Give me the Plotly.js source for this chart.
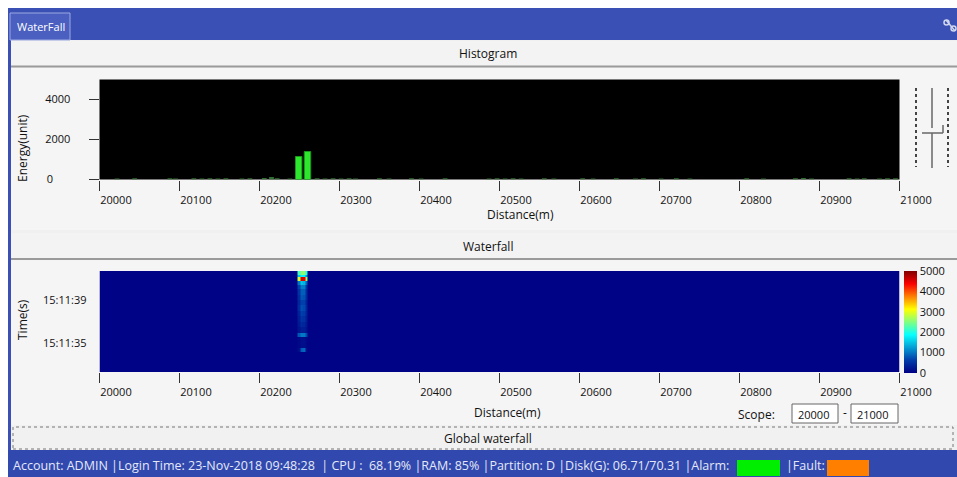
<!DOCTYPE html>
<html><head><meta charset="utf-8">
<script src="https://cdn.plot.ly/plotly-3.0.1.min.js"></script>
<style>html,body{margin:0;padding:0;background:#fff;overflow:hidden}#chart{width:957px;height:477px}</style>
</head><body><div id="chart"></div>
<script>
// ---------- data ----------
const distTicks = [20000,20100,20200,20300,20400,20500,20600,20700,20800,20900,21000];
const distTickText = ['20000','20100','20200','20300','20400','20500','20600','20700','20800','20900','21000'];
const energyTicks = [0,2000,4000];
const energyTickText = ['0\u00a0\u00a0\u00a0\u00a0\u00a0\u00a0','2000','4000'];
const timeTicks = [35,39];
const timeTickText = ['15:11:35','15:11:39'];
const colorbarTicks = [0,1000,2000,3000,4000,5000];

const peakDist = [20249,20260];
const peakEnergy = [1150,1400];

const noiseDist = [20022,20044,20088,20095,20118,20128,20138,20148,20158,20178,20188,20206,20215,20222,20238,
  20272,20282,20292,20302,20312,20320,20350,20362,20390,20402,20432,20487,20497,20507,20517,20527,20556,20568,
  20604,20617,20646,20670,20680,20702,20721,20738,20809,20830,20870,20880,20890,20937,20947,20956,20975,20985,20995];
const noiseEnergy = [50,60,60,50,60,50,60,50,60,50,60,70,120,60,50,
  60,50,60,50,60,50,60,50,60,50,60,50,60,50,60,50,60,50,
  60,50,60,50,60,50,60,50,60,50,60,70,50,60,50,60,50,60,60];

const wfDistEdges = [20000,20248,20251,20254,20257,20260,21000];
const wfTimeEdges = [32.3,34.2,34.5,35.6,35.9,36.5,37,37.5,38,38.5,39,39.5,40,40.4,40.8,41.1,41.35,41.7];
const wfEnergy = [
  [30,30,30,30,30,30],
  [30,150,800,900,150,30],
  [30,80,150,150,80,30],
  [30,800,1000,1000,700,30],
  [30,200,300,300,200,30],
  [30,250,450,400,250,30],
  [30,300,550,500,300,30],
  [30,350,650,600,350,30],
  [30,450,750,700,400,30],
  [30,400,650,650,350,30],
  [30,450,800,750,450,30],
  [30,500,850,850,450,30],
  [30,650,1050,1050,550,30],
  [30,1000,1500,1400,900,30],
  [30,2900,4600,4500,2600,30],
  [30,1500,1800,1800,1200,30],
  [30,2200,2500,2600,2000,30]
];

const statusText = 'Account: ADMIN |Login Time: 23-Nov-2018 09:48:28  | CPU :  68.19% |RAM: 85% |Partition: D |Disk(G): 06.71/70.31 |Alarm:';

// ---------- layout helpers ----------
const W = 957, H = 477;
const px = v => v / W;
const py = v => 1 - v / H;
const FONT = 'Open Sans, Noto Sans, sans-serif';

function rect(x0,y0,x1,y1,fill,line){
  return {type:'rect',xref:'paper',yref:'paper',x0:px(x0),x1:px(x1),y0:py(y1),y1:py(y0),
    fillcolor:fill,line:line||{width:0},layer:'below'};
}
function seg(x0,y0,x1,y1,color,width,dash){
  return {type:'line',xref:'paper',yref:'paper',x0:px(x0),x1:px(x1),y0:py(y0),y1:py(y1),
    line:{color:color,width:width,dash:dash||'solid'},layer:'below'};
}
function txt(t,x,y,opt){
  opt = opt||{};
  return Object.assign({text:t,xref:'paper',yref:'paper',x:px(x),y:py(y),showarrow:false,
    xanchor:opt.xanchor||'center',yanchor:'middle',
    font:{family:FONT,size:opt.size||12,color:opt.color||'#111'}},
    opt.textangle!==undefined?{textangle:opt.textangle}:{});
}

const shapes = [
  rect(8,8,957,477,'#3b50b4'),
  rect(8,450,957,477,'#3149ae'),
  rect(11,40,957,450,'#f0f0f0'),
  rect(10,13,70,40,'#4a5fc0',{color:'#9aa8e0',width:1}),
  rect(11,41,957,66,'#f3f3f3'),
  seg(11,66.5,957,66.5,'#9a9a9a',2),
  rect(11,68,957,230,'#f5f5f5'),
  rect(11,233,957,258,'#f3f3f3'),
  seg(11,259,957,259,'#9a9a9a',2),
  rect(11,260,957,425,'#f5f5f5'),
  rect(99.5,79.5,899.5,179.5,'#000000'),
  rect(13,427,953,449,'#f1f1f1',{color:'#777',width:1,dash:'dot'}),
  rect(792,404,838,423,'#ffffff',{color:'#666',width:1}),
  rect(851,404,898,423,'#ffffff',{color:'#666',width:1}),
  rect(737,460,780,476,'#00ee00'),
  rect(827,460,869,476,'#ff8000'),
  // slider widget
  seg(916,88,916,167,'#444',2,'dot'),
  seg(948,88,948,167,'#444',2,'dot'),
  seg(932,88,932,128,'#666',1.5),
  seg(932,133,932,168,'#666',1.5),
  seg(922,133,943,133,'#666',1.5),
  seg(943,125,943,133,'#666',1.5),
  // top right icon
  seg(946,20,955,31,'#cfd6ee',1.5),
  {type:'circle',xref:'paper',yref:'paper',x0:px(944),x1:px(949),y0:py(25),y1:py(20),line:{color:'#cfd6ee',width:1.5},layer:'below'},
  {type:'circle',xref:'paper',yref:'paper',x0:px(951),x1:px(956),y0:py(31),y1:py(26),line:{color:'#cfd6ee',width:1.5},layer:'below'}
];

const annotations = [
  txt('WaterFall',15,27,{xanchor:'left',size:11,color:'#ffffff'}),
  txt('Histogram',488,54),
  txt('Energy(unit)',22,148,{textangle:-90}),
  txt('Distance(m)',520,214),
  txt('Waterfall',488,246),
  txt('Time(s)',22,320,{textangle:-90}),
  txt('Distance(m)',508,412),
  txt('Scope:',756,414),
  txt('20000',796,414,{xanchor:'left',size:11}),
  txt('-',845,412),
  txt('21000',855,414,{xanchor:'left',size:11}),
  txt('Global waterfall',488,438),
  txt(statusText,11,465,{xanchor:'left',size:12.5,color:'#e4e8f6'}),
  txt('|Fault:',784,465,{xanchor:'left',size:12.5,color:'#e4e8f6'})
];

const axisFont = {family:FONT,size:11,color:'#111'};
const xCommon = {
  range:[20000,21000], domain:[px(99.5),px(899.5)],
  tickmode:'array', tickvals:distTicks, ticktext:distTickText,
  ticks:'outside', ticklen:10, tickwidth:1.5, tickcolor:'#333',
  ticklabelposition:'outside right', ticklabelstandoff:10, tickfont:axisFont,
  showgrid:false, zeroline:false, showline:false, fixedrange:true
};

const data = [
  {type:'bar', x:noiseDist, y:noiseEnergy, width:6, xaxis:'x', yaxis:'y',
   marker:{color:'#2f6f2f',line:{width:0}}, hoverinfo:'skip'},
  {type:'bar', x:peakDist, y:peakEnergy, width:8, xaxis:'x', yaxis:'y',
   marker:{color:'#2ee62e',line:{color:'#1a9a1a',width:1}}, hoverinfo:'skip'},
  {type:'heatmap', x:wfDistEdges, y:wfTimeEdges, z:wfEnergy, xaxis:'x2', yaxis:'y2',
   zmin:0, zmax:5000, colorscale:'Jet', hoverinfo:'skip',
   colorbar:{x:px(904), xanchor:'left', xpad:0, ypad:0, y:py(322), yanchor:'middle',
     len:102, lenmode:'pixels', thickness:13, outlinewidth:0, ticks:'',
     tickmode:'array', tickvals:colorbarTicks, tickfont:{family:FONT,size:11,color:'#111'}}}
];

const layout = {
  width:W, height:H, margin:{l:0,r:0,t:0,b:0},
  paper_bgcolor:'#ffffff', plot_bgcolor:'rgba(0,0,0,0)',
  showlegend:false, barmode:'overlay', hovermode:false,
  xaxis:Object.assign({anchor:'y'},xCommon),
  xaxis2:Object.assign({anchor:'y2'},xCommon),
  yaxis:{domain:[py(179.5),py(79.5)], range:[0,5000], anchor:'x',
    tickmode:'array', tickvals:energyTicks, ticktext:energyTickText,
    ticks:'outside', ticklen:10, tickwidth:1.5, tickcolor:'#333', ticklabelstandoff:16,
    tickfont:axisFont, showgrid:false, zeroline:false, showline:false, fixedrange:true},
  yaxis2:{domain:[py(372),py(271)], range:[32.3,41.7], anchor:'x2',
    tickmode:'array', tickvals:timeTicks, ticktext:timeTickText,
    ticks:'', ticklabelstandoff:12,
    tickfont:axisFont, showgrid:false, zeroline:false, showline:false, fixedrange:true},
  shapes:shapes, annotations:annotations
};

Plotly.newPlot('chart', data, layout, {staticPlot:true, displayModeBar:false});
</script></body></html>
